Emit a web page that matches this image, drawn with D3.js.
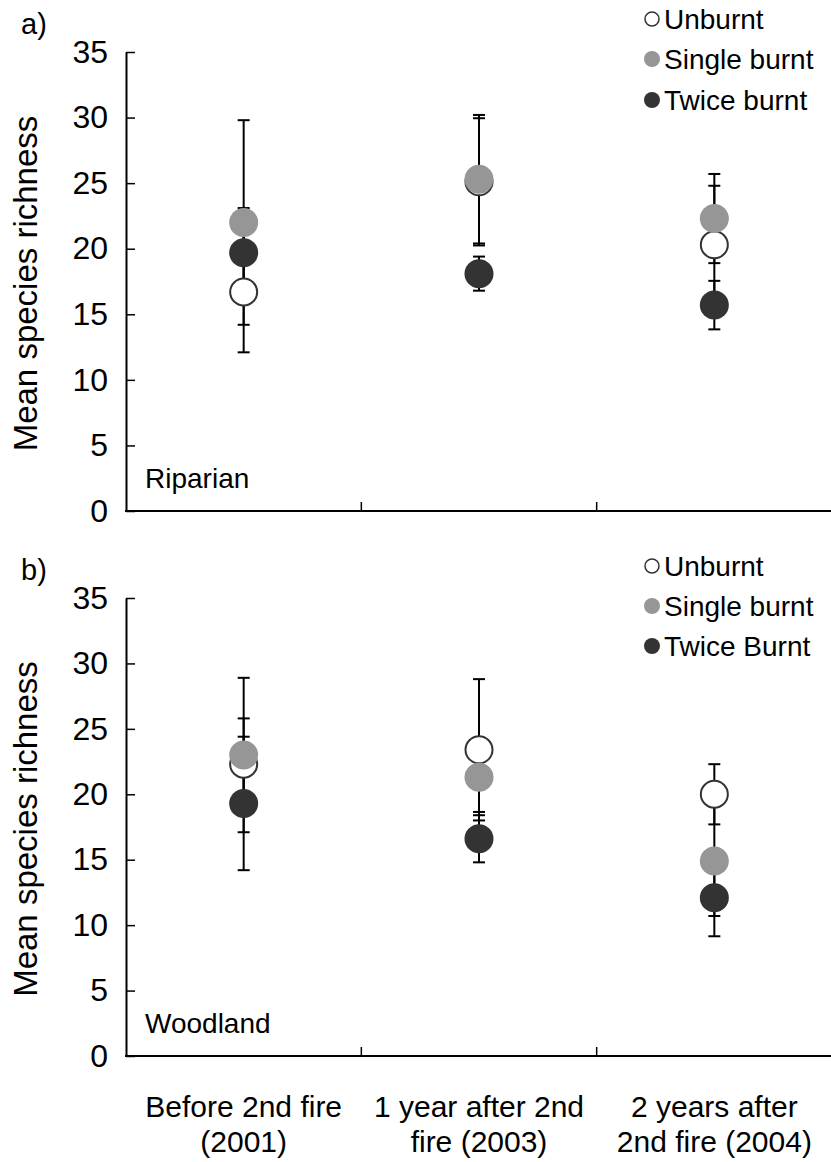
<!DOCTYPE html>
<html>
<head>
<meta charset="utf-8">
<script src="https://cdn.jsdelivr.net/npm/d3@7"></script>
<style>
  html, body { margin: 0; padding: 0; background: #fff; }
  svg text { font-family: "Liberation Sans", Arial, sans-serif; fill: #000; }
</style>
</head>
<body>
<svg id="chart" width="831" height="1162"></svg>
<script>
// ---------- data ----------
const categories = ["Before 2nd fire (2001)", "1 year after 2nd fire (2003)", "2 years after 2nd fire (2004)"];
const categoryLines = [["Before 2nd fire", "(2001)"], ["1 year after 2nd", "fire (2003)"], ["2 years after", "2nd fire (2004)"]];
const yTicks = [0, 5, 10, 15, 20, 25, 30, 35];

const seriesNamesA = ["Unburnt", "Single burnt", "Twice burnt"];
const seriesNamesB = ["Unburnt", "Single burnt", "Twice Burnt"];

// Riparian (panel a)
const ripUnburnt    = [16.7, 25.1, 20.3];
const ripUnburntErr = [4.6, 4.85, 4.5];
const ripSingle     = [22.0, 25.3, 22.3];
const ripSingleErr  = [7.8, 4.9, 3.4];
const ripTwice      = [19.7, 18.1, 15.7];
const ripTwiceErr   = [3.4, 1.3, 1.85];

// Woodland (panel b)
const woodUnburnt    = [22.3, 23.4, 20.0];
const woodUnburntErr = [3.5, 5.4, 2.3];
const woodSingle     = [23.0, 21.3, 14.9];
const woodSingleErr  = [5.9, 2.65, 4.2];
const woodTwice      = [19.3, 16.6, 12.1];
const woodTwiceErr   = [5.1, 1.8, 2.95];

// ---------- styles ----------
const fills   = ["#ffffff", "#969696", "#333333"];
const strokes = ["#333333", "none", "none"];
const TICKFONT = 32, TITLEFONT = 33, LEGFONT = 28, SITEFONT = 28, CATFONT = 30;

const svg = d3.select("#chart");
const x = d3.scaleBand().domain(categories).range([126, 832]).padding(0);

function panel(cfg) {
  const y = d3.scaleLinear().domain([0, 35]).range([cfg.bottom, cfg.top]);
  const g = svg.append("g");

  // y axis (inward ticks)
  const yAxis = d3.axisLeft(y).tickValues(yTicks).tickSizeInner(-9).tickSizeOuter(0).tickPadding(18);
  const ya = g.append("g").attr("transform", "translate(126,0)").call(yAxis);
  ya.select(".domain").attr("stroke", "#000").attr("stroke-width", 2);
  ya.selectAll(".tick line").attr("stroke", "#000").attr("stroke-width", 1.5);
  ya.selectAll(".tick text").attr("font-size", TICKFONT).attr("font-family", "Liberation Sans, Arial, sans-serif").attr("fill", "#000");

  // x axis
  g.append("line").attr("x1", 125).attr("x2", 831).attr("y1", y(0)).attr("y2", y(0))
    .attr("stroke", "#000").attr("stroke-width", 2);
  const bounds = categories.slice(1).map(c => x(c));
  g.selectAll(".xt").data(bounds).join("line")
    .attr("x1", d => d).attr("x2", d => d).attr("y1", y(0)).attr("y2", y(0) - 9)
    .attr("stroke", "#000").attr("stroke-width", 1.5);

  // panel letter & site label
  g.append("text").attr("x", 21).attr("y", cfg.top - 18).attr("font-size", 29).text(cfg.letter);
  g.append("text").attr("x", 145).attr("y", y(0) - 23).attr("font-size", SITEFONT).text(cfg.site);

  // y title
  g.append("text")
    .attr("transform", `translate(37,${(cfg.top + cfg.bottom) / 2 + 2}) rotate(-90)`)
    .attr("text-anchor", "middle").attr("font-size", TITLEFONT).text("Mean species richness");

  const cx = c => x(c) + x.bandwidth() / 2;

  // error bars first
  cfg.series.forEach((s) => {
    categories.forEach((c, i) => {
      const v = s.values[i], e = s.errs[i];
      const xx = cx(c);
      g.append("line").attr("x1", xx).attr("x2", xx).attr("y1", y(v - e)).attr("y2", y(v + e))
        .attr("stroke", "#000").attr("stroke-width", 2);
      [v - e, v + e].forEach(w => {
        g.append("line").attr("x1", xx - 6).attr("x2", xx + 6).attr("y1", y(w)).attr("y2", y(w))
          .attr("stroke", "#000").attr("stroke-width", 2);
      });
    });
  });
  // markers
  cfg.series.forEach((s, si) => {
    g.selectAll(null).data(s.values).join("circle")
      .attr("cx", (d, i) => cx(categories[i]))
      .attr("cy", d => y(d))
      .attr("r", si === 0 ? 13.5 : 14.5)
      .attr("fill", fills[si])
      .attr("stroke", strokes[si])
      .attr("stroke-width", si === 0 ? 2 : 0);
  });

  // legend
  cfg.names.forEach((n, i) => {
    const ly = cfg.legendY[i];
    g.append("circle").attr("cx", 652).attr("cy", ly).attr("r", i === 0 ? 7 : 8)
      .attr("fill", fills[i]).attr("stroke", strokes[i]).attr("stroke-width", i === 0 ? 1.5 : 0);
    g.append("text").attr("x", 664).attr("y", ly).attr("dy", "0.36em").attr("font-size", LEGFONT).text(n);
  });
}

panel({
  top: 52, bottom: 511, letter: "a)", site: "Riparian", names: seriesNamesA,
  legendY: [19, 59, 100],
  series: [
    { values: ripUnburnt, errs: ripUnburntErr },
    { values: ripSingle, errs: ripSingleErr },
    { values: ripTwice, errs: ripTwiceErr }
  ]
});
panel({
  top: 598, bottom: 1056, letter: "b)", site: "Woodland", names: seriesNamesB,
  legendY: [566, 606, 646],
  series: [
    { values: woodUnburnt, errs: woodUnburntErr },
    { values: woodSingle, errs: woodSingleErr },
    { values: woodTwice, errs: woodTwiceErr }
  ]
});

// category labels
categories.forEach((c, i) => {
  const t = svg.append("text").attr("text-anchor", "middle").attr("font-size", CATFONT)
    .attr("x", x(c) + x.bandwidth() / 2).attr("y", 1117);
  categoryLines[i].forEach((l, j) => {
    t.append("tspan").attr("x", x(c) + x.bandwidth() / 2).attr("dy", j === 0 ? 0 : 35).text(l);
  });
});
</script>
</body>
</html>
